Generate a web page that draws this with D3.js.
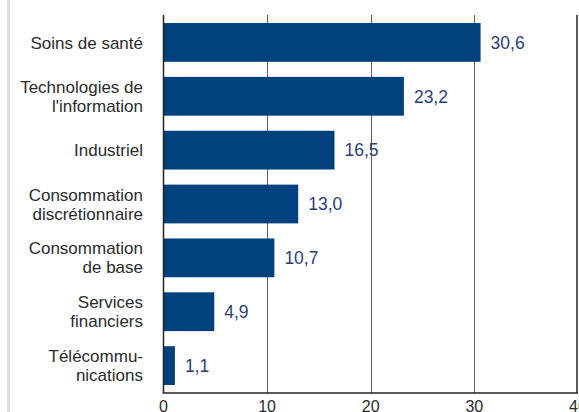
<!DOCTYPE html>
<html lang="fr">
  <head>
    <meta charset="UTF-8" />
    <title>Secteurs</title>
    <style>
      html,
      body {
        margin: 0;
        padding: 0;
        background: #fff;
      }
      svg {
        display: block;
      }
      .cat {
        font-family: "Liberation Sans", Arial, sans-serif;
        font-size: 17px;
        fill: #2b2b2b;
      }
      .val {
        font-family: "Liberation Sans", Arial, sans-serif;
        font-size: 17.5px;
        fill: #2a3d7c;
      }
      .tick-lbl {
        font-family: "Liberation Sans", Arial, sans-serif;
        font-size: 16px;
        fill: #2b2b2b;
      }
    </style>
  </head>
  <body>
    <svg id="chart"></svg>
    <script src="https://cdn.jsdelivr.net/npm/d3@7"></script>
    <script>
      // === Data === //
      var categories = [
        ["Soins de santé"],
        ["Technologies de", "l'information"],
        ["Industriel"],
        ["Consommation", "discrétionnaire"],
        ["Consommation", "de base"],
        ["Services", "financiers"],
        ["Télécommu-", "nications"]
      ];
      var values = [30.6, 23.2, 16.5, 13.0, 10.7, 4.9, 1.1];
      var tickValues = [0, 10, 20, 30, 40];

      // === Layout === //
      var width = 579,
        height = 412;
      var x0 = 163.5,
        x1 = 578,
        yTop = 15,
        yAxis = 393;

      var svg = d3.select("#chart").attr("width", width).attr("height", height);

      var x = d3.scaleLinear().domain([0, 40]).range([x0, x1]);
      var y = d3
        .scaleBand()
        .domain(d3.range(categories.length))
        .range([yTop + 0.5, yAxis - 0.5])
        .paddingInner(0.28)
        .paddingOuter(0.14);

      // left page border
      svg
        .append("rect")
        .attr("x", 7)
        .attr("y", 0)
        .attr("width", 3)
        .attr("height", height)
        .attr("fill", "#dedede");

      // gridlines
      svg
        .selectAll("line.grid")
        .data(tickValues.slice(1, 4))
        .enter()
        .append("line")
        .attr("class", "grid")
        .attr("x1", function(d) { return Math.round(x(d)) + 0.5; })
        .attr("x2", function(d) { return Math.round(x(d)) + 0.5; })
        .attr("y1", yTop)
        .attr("y2", yAxis)
        .attr("stroke", "#5f5f5f")
        .attr("stroke-width", 1);

      // right frame line at 40
      svg
        .append("line")
        .attr("x1", x(40) - 1)
        .attr("x2", x(40) - 1)
        .attr("y1", yTop)
        .attr("y2", yAxis)
        .attr("stroke", "#222")
        .attr("stroke-width", 1.5);

      // bars
      svg
        .selectAll("rect.bar")
        .data(values)
        .enter()
        .append("rect")
        .attr("class", "bar")
        .attr("x", x(0))
        .attr("y", function(d, i) { return y(i); })
        .attr("width", function(d) { return x(d) - x(0); })
        .attr("height", y.bandwidth())
        .attr("fill", "#01417e");

      // value labels
      svg
        .selectAll("text.val")
        .data(values)
        .enter()
        .append("text")
        .attr("class", "val")
        .attr("x", function(d) { return x(d) + 10; })
        .attr("y", function(d, i) { return y(i) + y.bandwidth() / 2; })
        .attr("dy", "0.36em")
        .text(function(d) { return d3.format(".1f")(d).replace(".", ","); });

      // category labels
      var lineH = 19;
      var cat = svg
        .selectAll("text.cat")
        .data(categories)
        .enter()
        .append("text")
        .attr("class", "cat")
        .attr("text-anchor", "end")
        .attr("y", function(d, i) {
          return y(i) + y.bandwidth() / 2 - ((d.length - 1) * lineH) / 2;
        });
      cat
        .selectAll("tspan")
        .data(function(d) { return d; })
        .enter()
        .append("tspan")
        .attr("x", 143)
        .attr("dy", function(d, i) { return i === 0 ? "0.36em" : lineH; })
        .text(function(d) { return d; });

      // axes
      svg
        .append("line")
        .attr("x1", x0)
        .attr("x2", x0)
        .attr("y1", yTop)
        .attr("y2", yAxis)
        .attr("stroke", "#222")
        .attr("stroke-width", 1.5);

      svg
        .append("line")
        .attr("x1", x0 - 0.75)
        .attr("x2", x1)
        .attr("y1", yAxis)
        .attr("y2", yAxis)
        .attr("stroke", "#222")
        .attr("stroke-width", 1.5);

      svg
        .selectAll("text.tick-lbl")
        .data(tickValues)
        .enter()
        .append("text")
        .attr("class", "tick-lbl")
        .attr("text-anchor", "middle")
        .attr("x", function(d) { return x(d); })
        .attr("y", 411.5)
        .text(function(d) { return d; });
    </script>
  </body>
</html>
